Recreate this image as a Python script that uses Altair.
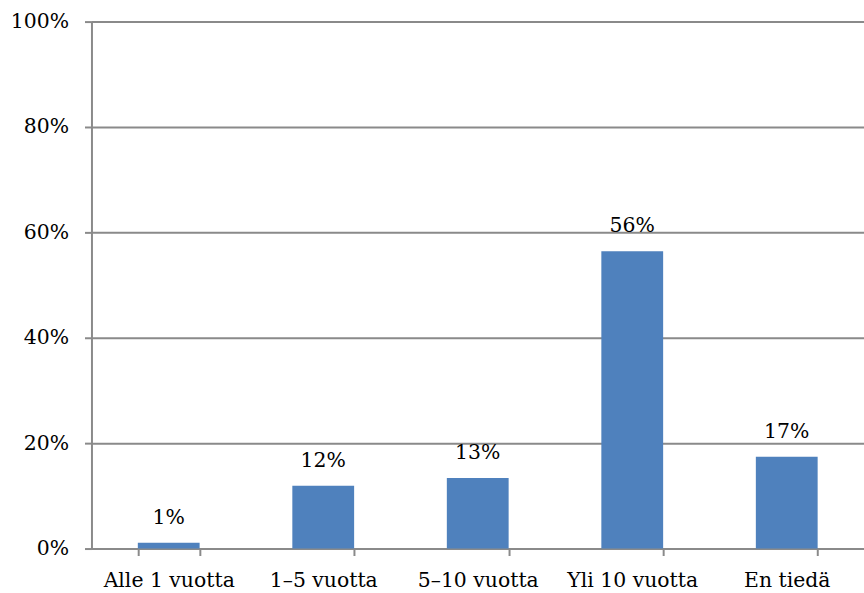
import altair as alt
import pandas as pd

categories = ["Alle 1 vuotta", "1–5 vuotta", "5–10 vuotta", "Yli 10 vuotta", "En tiedä"]
shares = [0.011, 0.119, 0.134, 0.564, 0.174]

df = pd.DataFrame({"kategoria": categories, "osuus": shares})

FONT = "DejaVu Serif"
SIZE = 20.5
GRID = "#8a8a8a"

x_enc = alt.X(
    "kategoria:N",
    sort=categories,
    title=None,
    scale=alt.Scale(paddingInner=0.6, paddingOuter=0.3),
    axis=alt.Axis(
        labelAngle=0,
        tickBand="extent",
        tickSize=7,
        tickColor=GRID,
        tickWidth=2,
        domainColor=GRID,
        domainWidth=2,
        labelFont=FONT,
        labelFontSize=SIZE,
        labelColor="#000000",
        labelPadding=15,
        grid=False,
    ),
)

y_enc = alt.Y(
    "osuus:Q",
    title=None,
    scale=alt.Scale(domain=[0, 1], nice=False),
    axis=alt.Axis(
        format=".0%",
        values=[0, 0.2, 0.4, 0.6, 0.8, 1.0],
        tickSize=7,
        tickColor=GRID,
        tickWidth=2,
        domainColor=GRID,
        domainWidth=2,
        gridColor=GRID,
        gridWidth=2,
        labelFont=FONT,
        labelFontSize=SIZE,
        labelColor="#000000",
        labelPadding=16,
    ),
)

bars = alt.Chart(df).mark_bar(color="#4F81BD").encode(x=x_enc, y=y_enc)

labels = alt.Chart(df).mark_text(
    font=FONT, fontSize=SIZE, color="#000000", baseline="alphabetic", dy=-19
).encode(
    x=alt.X("kategoria:N", sort=categories),
    y=alt.Y("osuus:Q"),
    text=alt.Text("osuus:Q", format=".0%"),
)

chart = (
    alt.layer(bars, labels)
    .properties(
        width=777,
        height=530,
        autosize=alt.AutoSizeParams(type="none"),
        padding={"left": 92, "top": 20, "right": 0, "bottom": 43},
    )
    .configure_view(stroke=None)
    .configure(background="#ffffff")
)

chart.save("out.html", embed_options={"renderer": "svg", "actions": False})
